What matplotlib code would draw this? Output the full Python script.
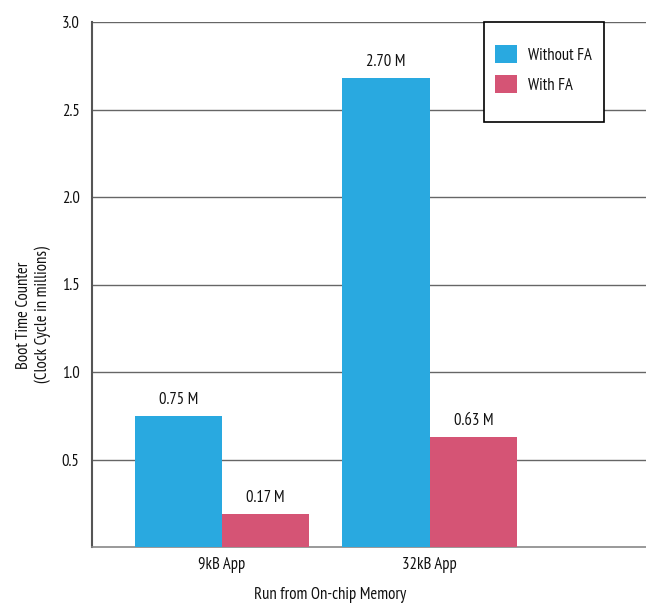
import matplotlib
matplotlib.use("Agg")
import matplotlib.pyplot as plt
from matplotlib import font_manager as fm
from matplotlib.patches import Patch, Rectangle
import numpy as np

available = {f.name for f in fm.fontManager.ttflist}
candidates = ["PT Sans Narrow", "Fira Sans Condensed", "Roboto Condensed",
              "Archivo Narrow", "Liberation Sans Narrow", "Open Sans Condensed"]
chosen = [c for c in candidates if c in available][:1]
plt.rcParams['font.family'] = chosen + ['DejaVu Sans']

categories = ["9kB App", "32kB App"]
series_names = ["Without FA", "With FA"]
without_fa = [0.75, 2.68]
with_fa = [0.19, 0.63]
without_fa_labels = ["0.75 M", "2.70 M"]
with_fa_labels = ["0.17 M", "0.63 M"]
yticks = [0.5, 1.0, 1.5, 2.0, 2.5, 3.0]

blue = "#29A9E0"
pink = "#D55475"
tc = "#111111"
fs = 12

W, H = 646, 606
fig = plt.figure(figsize=(W/100, H/100), dpi=100)
ax = fig.add_axes([92/W, (H-547)/H, (W-92)/W, (547-22)/H])

x = np.arange(len(categories))
w = 0.42
b1 = ax.bar(x - w/2, without_fa, width=w, color=blue, zorder=3)
b2 = ax.bar(x + w/2, with_fa, width=w, color=pink, zorder=3)

for bars, labs in ((b1, without_fa_labels), (b2, with_fa_labels)):
    for r, lab in zip(bars, labs):
        ax.annotate(lab, (r.get_x() + r.get_width()/2, r.get_height()),
                    xytext=(0, 5.5), textcoords="offset points",
                    ha="center", va="bottom", fontsize=fs, color=tc)

ax.set_xlim(-0.625, 2.04)
ax.set_ylim(0, 3.0)
ax.set_yticks(yticks)
ax.set_yticklabels([f"{v:.1f}" for v in yticks])
ax.set_xticks(x)
ax.set_xticklabels(categories)
ax.tick_params(axis="y", length=0, pad=9, labelsize=fs, labelcolor=tc)
ax.tick_params(axis="x", length=0, pad=7, labelsize=fs, labelcolor=tc)

ax.grid(axis="y", color="#666666", linewidth=1.0, zorder=0)
ax.set_axisbelow(True)
for s in ("top", "right"):
    ax.spines[s].set_visible(False)
ax.spines["left"].set_color("#555555")
ax.spines["left"].set_linewidth(1.5)
ax.spines["bottom"].set_color("#888888")
ax.spines["bottom"].set_linewidth(1.2)

ax.set_ylabel("Boot Time Counter\n(Clock Cycle in millions)", fontsize=fs, color=tc)
ax.yaxis.set_label_coords((51-92)/(W-92), (547-315)/(547-22))
ax.set_xlabel("Run from On-chip Memory", fontsize=fs, color=tc)
ax.xaxis.set_label_coords((330-92)/(W-92), -(587-547)/(547-22))

# legend frame
fig.patches.append(Rectangle((484/W, 1-122/H), 120/W, 100/H, transform=fig.transFigure,
                             facecolor="white", edgecolor="black", linewidth=1.2, zorder=4))
handles = [Patch(facecolor=blue, edgecolor="none"), Patch(facecolor=pink, edgecolor="none")]
leg = fig.legend(handles, series_names, loc="upper left",
                 bbox_to_anchor=(495/W, 1 - 45/H), bbox_transform=fig.transFigure,
                 frameon=False, fontsize=fs,
                 handlelength=1.32, handleheight=1.32, handletextpad=0.66,
                 borderpad=0, labelspacing=0.66, borderaxespad=0)
for t in leg.get_texts():
    t.set_color(tc)
leg.set_zorder(5)

fig.savefig("out.png", dpi=100)
